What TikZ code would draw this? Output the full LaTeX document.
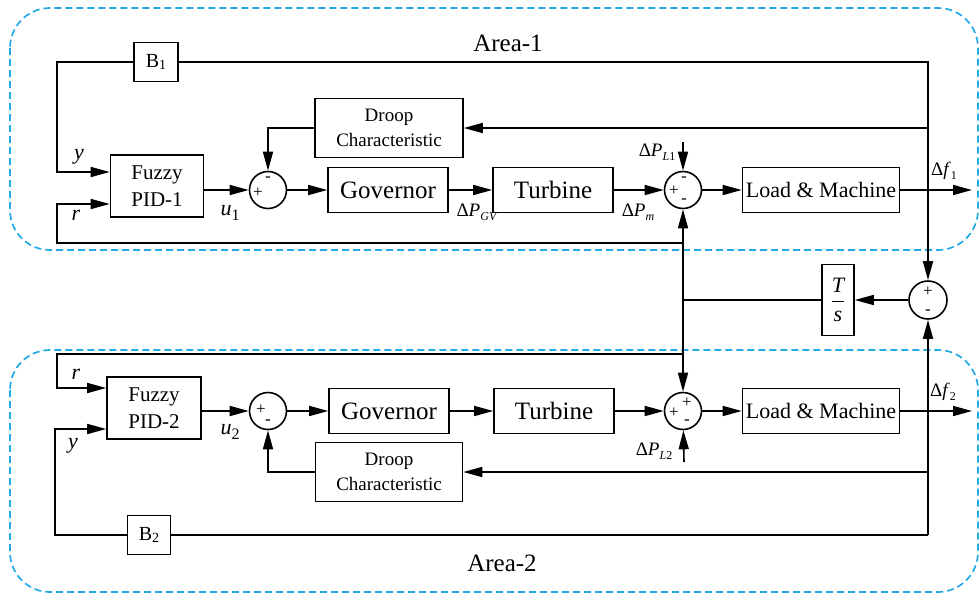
\documentclass[tikz,border=0pt]{standalone}
\usepackage{amsmath}
\usepackage{fontspec}
\setmainfont{Liberation Serif}
\usepackage{tikz}
\usetikzlibrary{arrows.meta}

\definecolor{areablue}{RGB}{35,170,230}
\newcommand{\lowsub}[3]{\raisebox{-#1pt}{\fontsize{#2}{#2}\selectfont #3}}

\begin{document}
\begin{tikzpicture}[> = {Stealth[length=19pt,width=10pt,inset=0pt]}, % arrow head style
	x=1pt,y=-1pt, % one unit is one pixel, y downwards
	line width=1.6pt,
	every node/.style={font=\fontsize{20}{24}\selectfont},
	block/.style={draw,rectangle,inner sep=1pt},
	sum/.style={draw,circle,minimum size=37pt,inner sep=0pt},
	sgn/.style={inner sep=0pt,font=\fontsize{17}{17}\selectfont},
	lbl/.style={inner sep=0pt,font=\fontsize{19}{19}\selectfont},
	area/.style={draw=areablue,dash pattern=on 7pt off 4pt,rounded corners=40pt,line width=1.7pt}]
	\useasboundingbox (0,0) rectangle (980,595);

	% areas
	\draw[area] (10,8) rectangle (978,250);
	\draw[area] (10,350) rectangle (978,592);
	\node (a1) at (508,43) {\fontsize{25}{25}\selectfont Area-1};
	\node (a2) at (502,563) {\fontsize{25}{25}\selectfont Area-2};

	% area 1
	\node[block,minimum width=44pt,minimum height=39pt] (b1) at (156,62) {B\lowsub{2}{14}{1}};
	\node[block,minimum width=93pt,minimum height=62pt,align=center,font=\fontsize{21}{27}\selectfont] (pid1) at (157,186) {Fuzzy\\PID-1};
	\node[sum] (sum1) at (268,190) {};
	\node[block,minimum width=148pt,minimum height=59pt,align=center,font=\fontsize{19}{25}\selectfont] (droop1) at (389,128) {Droop\\Characteristic};
	\node[block,minimum width=120pt,minimum height=45pt,font=\fontsize{25}{25}\selectfont] (gov1) at (388,190) {Governor};
	\node[block,minimum width=120pt,minimum height=45pt,font=\fontsize{25}{25}\selectfont] (turb1) at (553,190) {Turbine};
	\node[sum] (sum2) at (683,190) {};
	\node[block,minimum width=157pt,minimum height=45pt,font=\fontsize{22}{22}\selectfont] (load1) at (821,190) {Load \& Machine};

	% tie line
	\node[sum,minimum size=38pt] (sum3) at (928,300) {};
	\node[block,minimum width=32pt,minimum height=71pt,inner sep=0pt,font=\fontsize{22}{22}\selectfont] (ts) at (838,300) {$\dfrac{\textit{T}\rule[-5pt]{0pt}{5pt}}{\rule{0pt}{18pt}\textit{s}}$};

	% area 2
	\node[block,minimum width=94pt,minimum height=62pt,align=center,font=\fontsize{21}{27}\selectfont] (pid2) at (154,408) {Fuzzy\\PID-2};
	\node[sum] (sum5) at (268,411) {};
	\node[block,minimum width=120pt,minimum height=45pt,font=\fontsize{25}{25}\selectfont] (gov2) at (389,411) {Governor};
	\node[block,minimum width=147pt,minimum height=59pt,align=center,font=\fontsize{19}{25}\selectfont] (droop2) at (389,472) {Droop\\Characteristic};
	\node[block,minimum width=120pt,minimum height=45pt,font=\fontsize{25}{25}\selectfont] (turb2) at (554,411) {Turbine};
	\node[sum] (sum4) at (683,411) {};
	\node[block,minimum width=157pt,minimum height=45pt,font=\fontsize{22}{22}\selectfont] (load2) at (821,411) {Load \& Machine};
	\node[block,minimum width=43pt,minimum height=39pt] (b2) at (149,535) {B\lowsub{2}{14}{2}};

	% junctions and free ends
	\coordinate (f1) at (928,190);
	\coordinate (out1) at (972,190);
	\coordinate (y1) at (57,172);
	\coordinate (r1) at (57,204);
	\coordinate (r1c) at (683,243);
	\coordinate (pl1) at (683,142);
	\coordinate (tie) at (683,300);
	\coordinate (r2c) at (683,354);
	\coordinate (r2) at (57,388);
	\coordinate (y2) at (55,429);
	\coordinate (f2) at (928,411);
	\coordinate (f2b) at (928,535);
	\coordinate (out2) at (972,411);
	\coordinate (pl2) at (684,462);

	% area 1 links
	\draw[->] (pid1.east |- sum1) -- (sum1);
	\draw[->] (sum1) -- (gov1);
	\draw[->] (gov1) -- (turb1);
	\draw[->] (turb1) -- (sum2);
	\draw[->] (sum2) -- (load1);
	\draw[->] (load1) -- (out1);
	\draw (f1) |- (b1);
	\draw[->] (b1) -| (y1) -- (y1 -| pid1.west);
	\draw[->] (f1 |- droop1) -- (droop1);
	\draw[->] (droop1) -| (sum1);
	\draw[->] (pl1) -- (sum2);
	\draw[->] (r1c) -| (r1) -- (r1 -| pid1.west);

	% tie line links
	\draw[->] (f1) -- (sum3);
	\draw[->] (sum3) -- (ts);
	\draw (ts) -- (tie);
	\draw[->] (tie) -- (sum2);
	\draw[->] (tie) -- (sum4);
	\draw[->] (f2b) -- (sum3);

	% area 2 links
	\draw[->] (r2c) -| (r2) -- (r2 -| pid2.west);
	\draw[->] (pid2.east |- sum5) -- (sum5);
	\draw[->] (sum5) -- (gov2);
	\draw[->] (gov2) -- (turb2);
	\draw[->] (turb2) -- (sum4);
	\draw[->] (sum4) -- (load2);
	\draw[->] (load2) -- (out2);
	\draw[->] (f2 |- droop2) -- (droop2);
	\draw[->] (droop2) -| (sum5);
	\draw (f2b) -- (b2);
	\draw[->] (b2) -| (y2) -- (y2 -| pid2.west);
	\draw[->] (pl2) -- (sum4);

	% signs
	\node[sgn] (s1p) at (258,193) {+};
	\node[sgn] (s1m) at (268,179) {-};
	\node[sgn] (s2p) at (674,191) {+};
	\node[sgn] (s2m) at (684,179) {-};
	\node[sgn] (s2n) at (684,201) {-};
	\node[sgn] (s3p) at (928,292) {+};
	\node[sgn] (s3m) at (928,312) {-};
	\node[sgn] (s4p) at (674,413) {+};
	\node[sgn] (s4q) at (687,403) {+};
	\node[sgn] (s4m) at (687,422) {-};
	\node[sgn] (s5p) at (261,410) {+};
	\node[sgn] (s5m) at (268,422) {-};

	% labels
	\node[lbl,font=\fontsize{22}{22}\selectfont] (ly1) at (79,157) {\textit{y}};
	\node[lbl,font=\fontsize{22}{22}\selectfont] (lr1) at (76,215) {\textit{r}};
	\node[lbl,font=\fontsize{22}{22}\selectfont] (lu1) at (230,213) {\textit{u}\lowsub{5}{16}{1}};
	\node[lbl] (lgv) at (477,212) {Δ\textit{P}\lowsub{4}{12}{\textit{GV}}};
	\node[lbl] (lpm) at (638,212) {Δ\textit{P}\lowsub{4}{12}{\textit{m}}};
	\node[lbl] (lpl1) at (657,152) {Δ\textit{P}\lowsub{4}{12}{\textit{L}1}};
	\node[lbl] (lf1) at (944,171) {Δ\textit{f}\lowsub{4}{12}{1}};
	\node[lbl] (lf2) at (943,392) {Δ\textit{f}\lowsub{4}{12}{2}};
	\node[lbl] (lpl2) at (654,451) {Δ\textit{P}\lowsub{4}{12}{\textit{L}2}};
	\node[lbl,font=\fontsize{22}{22}\selectfont] (lr2) at (76,374) {\textit{r}};
	\node[lbl,font=\fontsize{22}{22}\selectfont] (ly2) at (73,446) {\textit{y}};
	\node[lbl,font=\fontsize{22}{22}\selectfont] (lu2) at (230,432) {\textit{u}\lowsub{5}{16}{2}};

\end{tikzpicture}
\end{document}
